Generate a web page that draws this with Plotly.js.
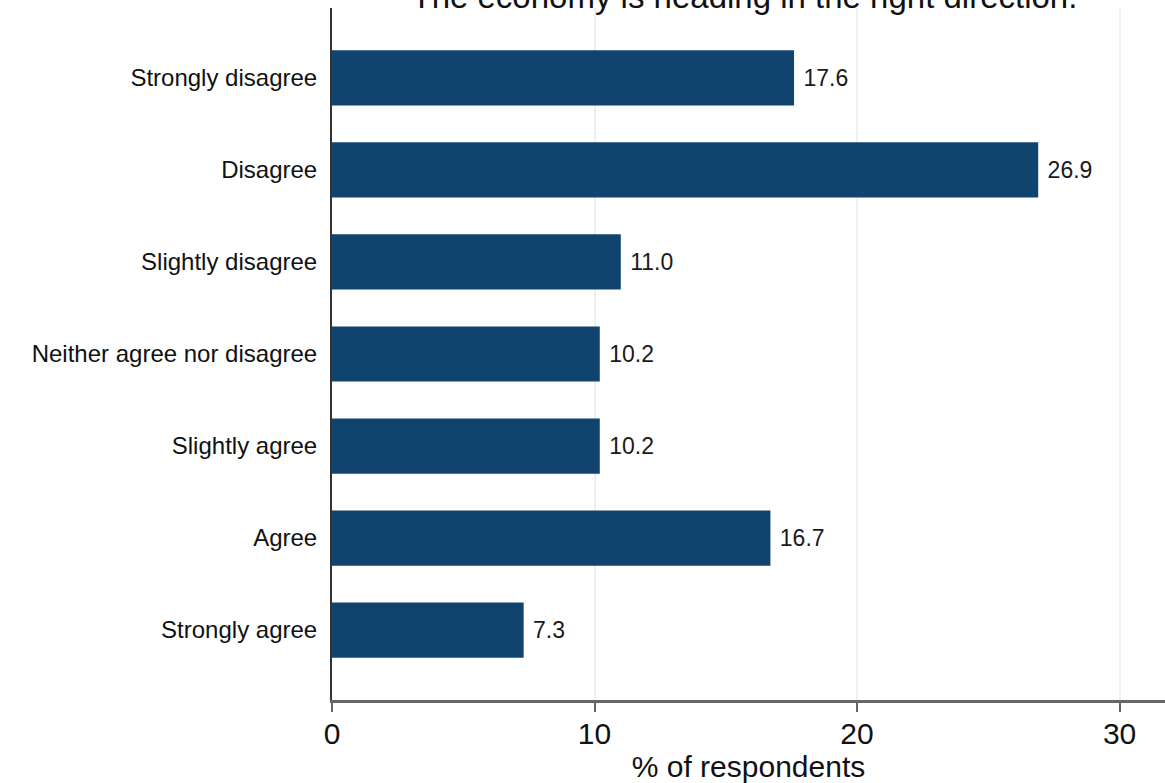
<!DOCTYPE html>
<html><head><meta charset="utf-8">
<script src="https://cdn.plot.ly/plotly-3.0.1.min.js"></script>
<style>html,body{margin:0;padding:0;background:#fff}</style>
</head><body>
<div id="chart" style="width:1165px;height:783px"></div>
<script>
const categories = ["Strongly disagree","Disagree","Slightly disagree","Neither agree nor disagree","Slightly agree","Agree","Strongly agree"];
const values = [17.6, 26.9, 11.0, 10.2, 10.2, 16.7, 7.3];
const labels = values.map(v => '\u00a0' + v.toFixed(1));
const xTicks = [0, 10, 20, 30];

const FONT = 'Liberation Sans, Arial, Helvetica, sans-serif';

const trace = {
  type: 'bar', orientation: 'h',
  x: values, y: categories,
  text: labels, textposition: 'outside',
  textfont: {family: FONT, size: 23, color: '#1a1a1a'},
  marker: {color: '#10446f', line: {color: '#10446f', width: 0}},
  cliponaxis: false,
  hoverinfo: 'none'
};

const layout = {
  width: 1165, height: 783,
  margin: {l: 332, r: 0, t: 8, b: 83},
  paper_bgcolor: '#fff', plot_bgcolor: '#fff',
  font: {family: FONT, color: '#111'},
  title: {text: 'The economy is heading in the right direction.', x: 0.639, xanchor: 'center',
          y: 0.9895, yanchor: 'bottom', yref: 'container',
          font: {size: 33, color: '#111'}},
  bargap: 0.4,
  showlegend: false,
  xaxis: {
    range: [0, 31.73], tickvals: xTicks, ticktext: xTicks.map(String),
    showgrid: true, gridcolor: '#eaf2f4', gridwidth: 2,
    zeroline: false, showline: true, linecolor: '#666', linewidth: 3,
    ticks: 'outside', ticklen: 9, tickcolor: '#666', tickwidth: 2,
    ticklabelstandoff: -4,
    tickfont: {size: 30, color: '#111'},
    automargin: false,
    title: {text: '% of respondents', font: {size: 30, color: '#111'}, standoff: 0}
  },
  yaxis: {
    type: 'category', range: [6.76, -0.76],
    showgrid: false, zeroline: false, showline: true, linecolor: '#333', linewidth: 2,
    ticks: '', ticklen: 0, ticklabelstandoff: 8,
    automargin: false,
    tickfont: {size: 24, color: '#111'}
  }
};

Plotly.newPlot('chart', [trace], layout, {displayModeBar: false, staticPlot: true});
</script>
</body></html>
